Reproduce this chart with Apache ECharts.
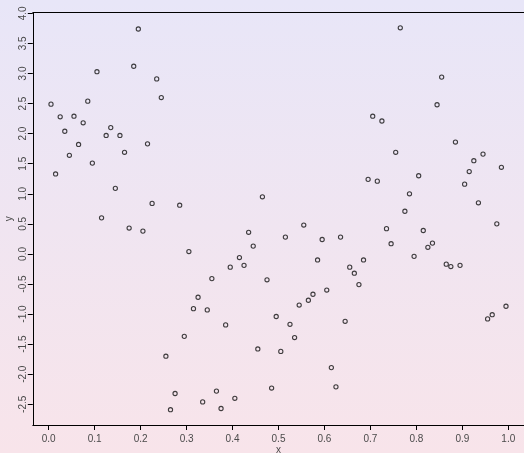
<!DOCTYPE html>
<html>
<head>
<meta charset="utf-8">
<script src="https://cdn.jsdelivr.net/npm/echarts@6/dist/echarts.min.js"></script>
<style>
  html, body { margin: 0; padding: 0; }
  #chart { width: 524px; height: 453px; }
</style>
</head>
<body>
<div id="chart"></div>
<script>
// Scatter of y against x
const xValues = [
  0.005, 0.015, 0.025, 0.035, 0.045, 0.055, 0.065, 0.075, 0.085, 0.095,
  0.105, 0.115, 0.125, 0.135, 0.145, 0.155, 0.165, 0.175, 0.185, 0.195,
  0.205, 0.215, 0.225, 0.235, 0.245, 0.255, 0.265, 0.275, 0.285, 0.295,
  0.305, 0.315, 0.325, 0.335, 0.345, 0.355, 0.365, 0.375, 0.385, 0.395,
  0.405, 0.415, 0.425, 0.435, 0.445, 0.455, 0.465, 0.475, 0.485, 0.495,
  0.505, 0.515, 0.525, 0.535, 0.545, 0.555, 0.565, 0.575, 0.585, 0.595,
  0.605, 0.615, 0.625, 0.635, 0.645, 0.655, 0.665, 0.675, 0.685, 0.695,
  0.705, 0.715, 0.725, 0.735, 0.745, 0.755, 0.765, 0.775, 0.785, 0.795,
  0.805, 0.815, 0.825, 0.835, 0.845, 0.855, 0.865, 0.875, 0.885, 0.895,
  0.905, 0.915, 0.925, 0.935, 0.945, 0.955, 0.965, 0.975, 0.985, 0.995
];
const yValues = [
  2.49, 1.33, 2.28, 2.04, 1.64, 2.29, 1.82, 2.18, 2.54, 1.51,
  3.03, 0.60, 1.97, 2.10, 1.09, 1.97, 1.69, 0.43, 3.12, 3.74,
  0.38, 1.83, 0.84, 2.91, 2.60, -1.70, -2.59, -2.32, 0.81, -1.37,
  0.04, -0.91, -0.72, -2.46, -0.93, -0.41, -2.28, -2.57, -1.18, -0.22,
  -2.40, -0.06, -0.19, 0.36, 0.13, -1.58, 0.95, -0.43, -2.23, -1.04,
  -1.62, 0.28, -1.17, -1.39, -0.85, 0.48, -0.77, -0.67, -0.10, 0.24,
  -0.60, -1.89, -2.21, 0.28, -1.12, -0.22, -0.32, -0.51, -0.10, 1.24,
  2.29, 1.21, 2.21, 0.42, 0.17, 1.69, 3.76, 0.71, 1.00, -0.04,
  1.30, 0.39, 0.11, 0.18, 2.48, 2.94, -0.17, -0.21, 1.86, -0.19,
  1.16, 1.37, 1.55, 0.85, 1.66, -1.08, -1.01, 0.50, 1.44, -0.87
];
const xTicks = [0.0, 0.1, 0.2, 0.3, 0.4, 0.5, 0.6, 0.7, 0.8, 0.9, 1.0];
const yTicks = [-2.5, -2.0, -1.5, -1.0, -0.5, 0.0, 0.5, 1.0, 1.5, 2.0, 2.5, 3.0, 3.5, 4.0];
const xName = 'x';
const yName = 'y';

// data range padded by 4% on each side
function padRange(vals) {
  const lo = Math.min(...vals), hi = Math.max(...vals);
  const d = (hi - lo) * 0.04;
  return [lo - d, hi + d];
}
const xr = padRange(xValues);
const yr = padRange(yValues);

const points = xValues.map((x, i) => [x, yValues[i]]);

const labelFont = { fontFamily: 'Liberation Sans, Arial, sans-serif', fontSize: 10, color: '#4a4a4a' };
const blackLine = { show: true, onZero: false, lineStyle: { color: '#000', width: 1 } };

const chart = echarts.init(document.getElementById('chart'), null, { renderer: 'canvas' });
chart.setOption({
  animation: false,
  backgroundColor: new echarts.graphic.LinearGradient(0, 0, 0, 1, [
    { offset: 0, color: '#e8e6f8' },
    { offset: 1, color: '#f8e4ea' }
  ]),
  grid: { left: 32.8, right: -0.2, top: 12.5, bottom: 28, containLabel: false, outerBoundsMode: 'none' },
  xAxis: [{
    type: 'value',
    min: xr[0], max: xr[1],
    position: 'bottom',
    name: xName, nameLocation: 'middle', nameGap: 20, nameMoveOverlap: false,
    nameTextStyle: Object.assign({}, labelFont),
    axisLine: blackLine,
    axisTick: { show: true, length: 5, inside: false, customValues: xTicks, lineStyle: { color: '#000', width: 1 } },
    axisLabel: Object.assign({ customValues: xTicks, margin: 9, formatter: v => v.toFixed(1) }, labelFont),
    splitLine: { show: false }
  }, {
    type: 'value',
    min: xr[0], max: xr[1],
    position: 'top',
    axisLine: blackLine,
    axisTick: { show: false },
    axisLabel: { show: false },
    splitLine: { show: false }
  }],
  yAxis: [{
    type: 'value',
    min: yr[0], max: yr[1],
    position: 'left',
    name: yName, nameLocation: 'middle', nameGap: 19, nameRotate: 90, nameMoveOverlap: false,
    nameTextStyle: Object.assign({}, labelFont),
    axisLine: blackLine,
    axisTick: { show: true, length: 5, inside: false, customValues: yTicks, lineStyle: { color: '#000', width: 1 } },
    axisLabel: Object.assign({ customValues: yTicks, margin: 5, rotate: 90, formatter: v => v.toFixed(1) }, labelFont),
    splitLine: { show: false }
  }],
  series: [{
    type: 'scatter',
    xAxisIndex: 0,
    data: points,
    symbol: 'circle',
    symbolSize: 4.2,
    itemStyle: { color: 'rgba(0,0,0,0)', borderColor: '#111', borderWidth: 1.1 },
    silent: true
  }]
});
</script>
</body>
</html>
